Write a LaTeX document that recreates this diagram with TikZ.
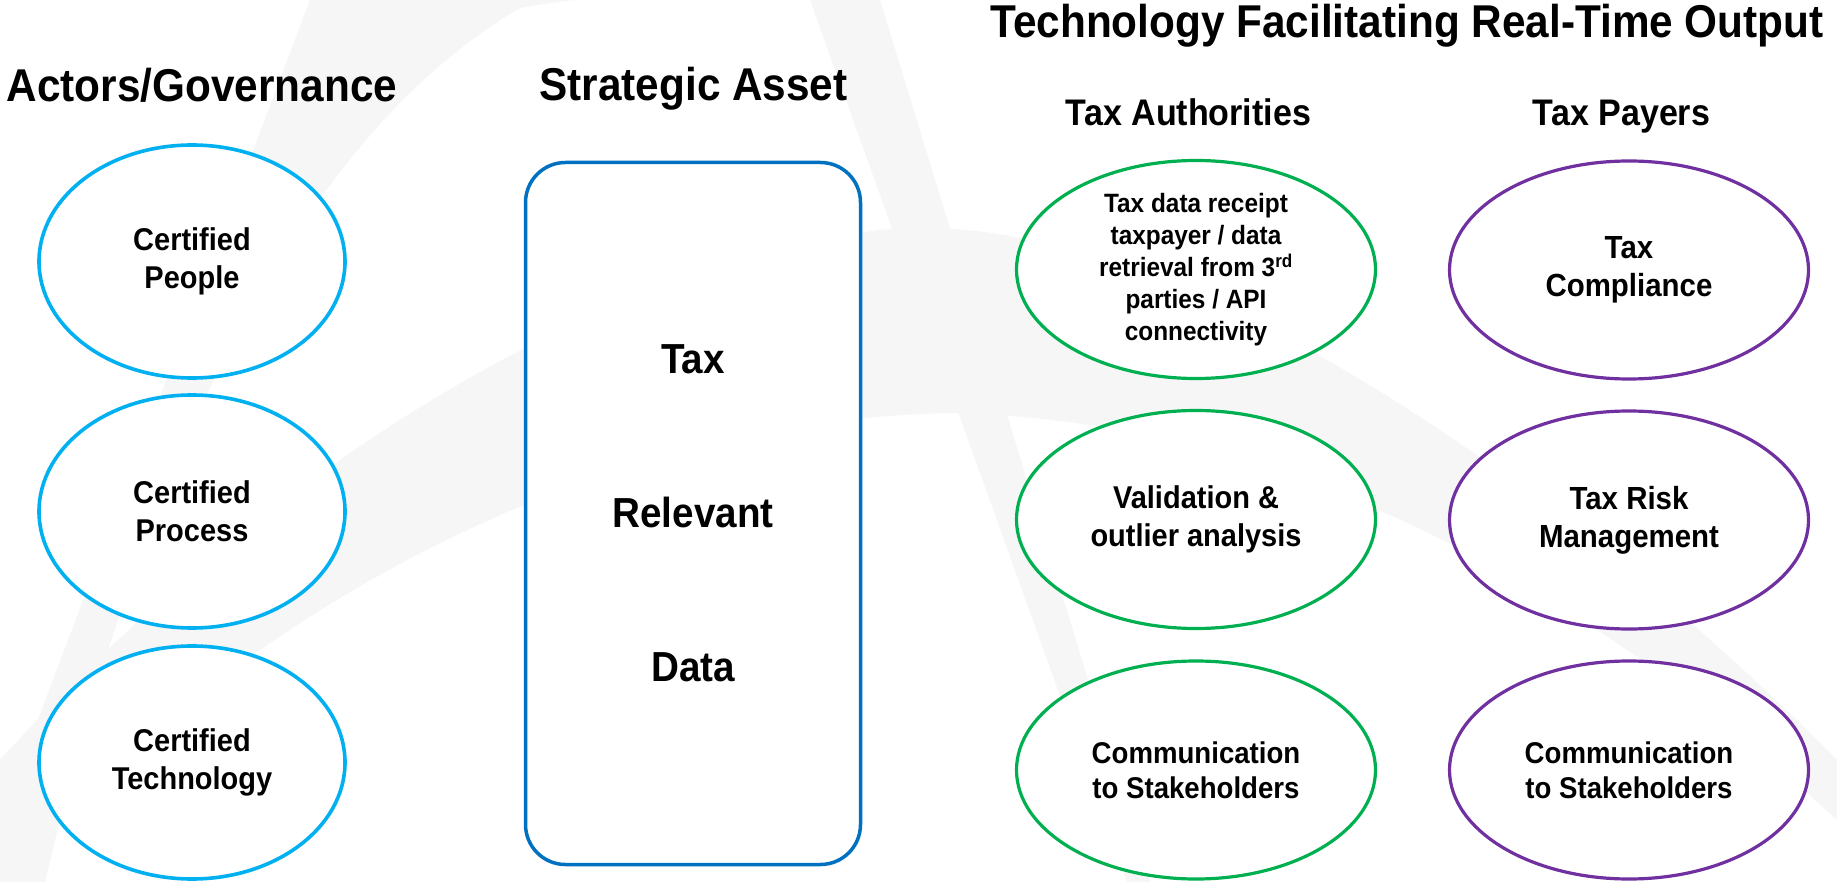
\documentclass[tikz,border=0pt]{standalone}
\usepackage{fontspec}
\setmainfont{Liberation Sans}[FakeStretch=0.92]
\usetikzlibrary{shapes.geometric}
\definecolor{cyanE}{RGB}{0,176,240}
\definecolor{greenE}{RGB}{0,176,80}
\definecolor{purpleE}{RGB}{112,48,160}
\definecolor{boxblue}{RGB}{0,112,192}
\definecolor{wm}{RGB}{246,246,246}
\begin{document}
\begin{tikzpicture}[x=1pt,y=-1pt,
  title/.style={font=\bfseries\fontsize{46}{55}\selectfont, anchor=base, inner sep=0pt},
  subtitle/.style={font=\bfseries\fontsize{37}{44}\selectfont, anchor=base, inner sep=0pt},
  oval/.style={ellipse, draw, fill=white, inner sep=-30pt, align=center, font=\bfseries\fontsize{31.5}{38}\selectfont},
  cyanoval/.style={oval, draw=cyanE, line width=3.6pt, minimum width=306pt, minimum height=233pt},
  greenoval/.style={oval, draw=greenE, line width=3.2pt, minimum width=359pt, minimum height=218pt},
  purpleoval/.style={oval, draw=purpleE, line width=3.2pt, minimum width=359pt, minimum height=218pt},
  assetbox/.style={draw=boxblue, line width=3.5pt, rounded corners=40pt, fill=white, minimum width=335pt, minimum height=702pt, align=center, font=\bfseries\fontsize{42}{154}\selectfont}
]
\useasboundingbox (0,0) rectangle (1837,882);
\fill[white] (0,0) rectangle (1837,882);
% faint watermark
\begin{scope}
\clip (0,0) rectangle (1837,882);
\fill[wm] (310,0) -- (0,820) -- (0,882) -- (45,882) .. controls (120,560) and (260,160) .. (520,8) .. controls (580,-2) .. (667,0) -- cycle;
\fill[wm] (810,0) -- (880,0) -- (1150,882) -- (1127,882) -- cycle;
\fill[wm] (0,760) .. controls (300,430) and (650,250) .. (900,228) .. controls (1200,215) and (1600,520) .. (1837,760) -- (1837,820) .. controls (1600,600) and (1300,420) .. (950,413) .. controls (600,420) and (250,600) .. (0,882) -- cycle;
\end{scope}
% titles
\node[title] (tact) at (202,102) {Actors/Governance};
\node[title] (tasset) at (693.5,101) {Strategic Asset};
\node[title] (ttech) at (1407,38) {Technology Facilitating Real-Time Output};
\node[subtitle] (tauth) at (1188.5,126) {Tax Authorities};
\node[subtitle] (tpay) at (1621.5,126) {Tax Payers};
% left column
\node[cyanoval] (people) at (192,261.5) {Certified\\People};
\node[cyanoval] (process) at (192,511.5) {Certified\\Process};
\node[cyanoval] (techn) at (192,762.5) {Certified\\Technology};
% strategic asset
\node[assetbox] (asset) at (693,513.5) {Tax\\Relevant\\Data};
% tax authorities
\node[greenoval, font=\bfseries\fontsize{26.5}{32}\selectfont] (receipt) at (1196,269.5) {Tax data receipt\\taxpayer / data\\retrieval from 3\textsuperscript{rd}\\parties / API\\connectivity};
\node[greenoval] (valid) at (1196,519.5) {Validation \&\\outlier analysis};
\node[greenoval, font=\bfseries\fontsize{30}{35}\selectfont] (commA) at (1196,770) {Communication\\to Stakeholders};
% tax payers
\node[purpleoval, font=\bfseries\fontsize{32}{38}\selectfont] (compl) at (1629,270) {Tax\\Compliance};
\node[purpleoval, font=\bfseries\fontsize{32}{38}\selectfont] (risk) at (1629,520) {Tax Risk\\Management};
\node[purpleoval, font=\bfseries\fontsize{30}{35}\selectfont] (commP) at (1629,770) {Communication\\to Stakeholders};
\end{tikzpicture}
\end{document}
